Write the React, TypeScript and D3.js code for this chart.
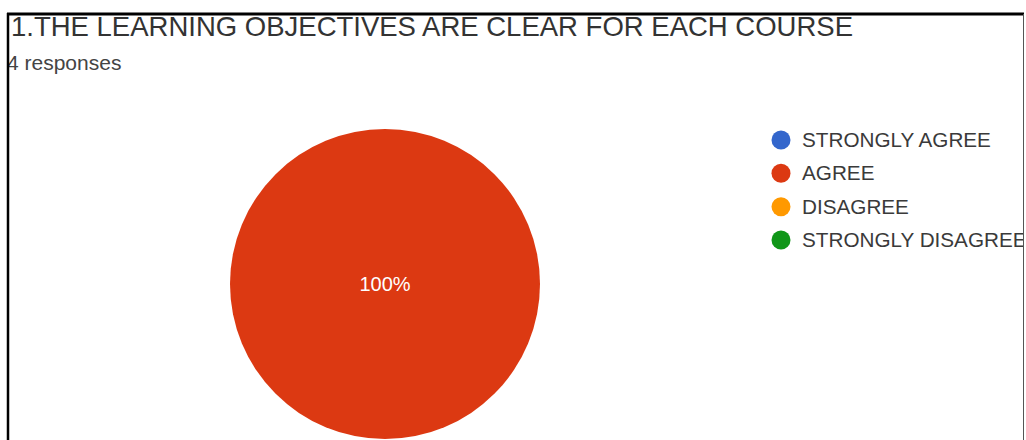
import React from "react";
import * as d3 from "d3";

const title = "1.THE LEARNING OBJECTIVES ARE CLEAR FOR EACH COURSE";
const subtitle = "4 responses";
const categories = ["STRONGLY AGREE", "AGREE", "DISAGREE", "STRONGLY DISAGREE"];
const counts = [0, 4, 0, 0];
const colors = ["#3366cc", "#dc3912", "#ff9900", "#109618"];

const W = 1026;
const H = 440;

export default function App() {
  const cx = 385;
  const cy = 284;
  const r = 155;
  const total = d3.sum(counts);
  const pie = d3.pie<number>().sort(null).value((d) => d);
  const arcs = pie(counts);
  const arc = d3.arc<d3.PieArcDatum<number>>().innerRadius(0).outerRadius(r);
  const legendY = d3.scalePoint<string>().domain(categories).range([140, 240]);
  const font = "'Liberation Sans', Arial, sans-serif";

  return (
    <svg
      width={W}
      height={H}
      style={{ position: "absolute", left: 0, top: 0, background: "#fff" }}
      fontFamily={font}
    >
      <rect x={0} y={0} width={W} height={H} fill="#fff" />
      <text x={11} y={36} fontSize={27.5} fill="#333">{title}</text>
      <text x={7} y={70} fontSize={21} fill="#444">{subtitle}</text>
      <g transform={`translate(${cx},${cy})`}>
        {arcs.map((a, i) =>
          a.value > 0 ? (
            <path key={i} d={arc(a) || ""} fill={colors[i]} />
          ) : null
        )}
        {arcs.map((a, i) => {
          if (a.value <= 0) return null;
          const frac = a.value / total;
          const [lx, ly] = frac >= 0.999 ? [0, 0] : arc.centroid(a);
          return (
            <text key={"l" + i} x={lx} y={ly + 7} textAnchor="middle" fontSize={20} fill="#fff">
              {d3.format(".0%")(frac)}
            </text>
          );
        })}
      </g>
      <g>
        {categories.map((c, i) => (
          <g key={c} transform={`translate(0,${legendY(c)})`}>
            <circle cx={781} cy={0} r={9.5} fill={colors[i]} />
            <text x={802} y={7} fontSize={20.7} fill="#3a3a3a">{c}</text>
          </g>
        ))}
      </g>
      <rect x={1023} y={13} width={3} height={H} fill="#fff" />
      <line x1={7} y1={14} x2={1024} y2={14} stroke="#000" strokeWidth={3} />
      <line x1={8} y1={13} x2={8} y2={H} stroke="#000" strokeWidth={2.5} />
      <line x1={1023.5} y1={14} x2={1023.5} y2={H} stroke="#555" strokeWidth={1} />
    </svg>
  );
}
